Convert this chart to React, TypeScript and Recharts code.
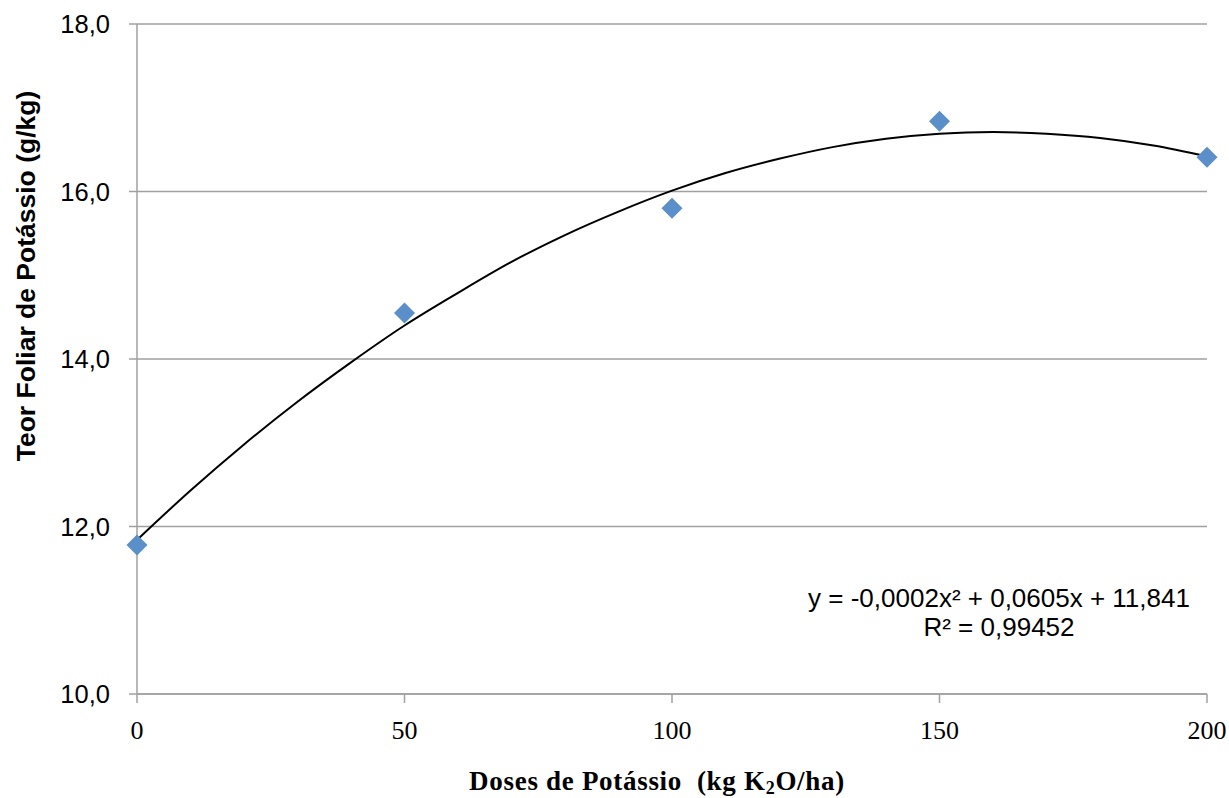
import React from 'react';
import {
  ComposedChart,
  Line,
  Scatter,
  XAxis,
  YAxis,
  CartesianGrid,
} from 'recharts';

// Observed points (dose kg K2O/ha -> leaf K g/kg)
const doses = [0, 50, 100, 150, 200];
const teorFoliar = [11.78, 14.55, 15.8, 16.84, 16.41];

// Trend curve values at every 10 kg/ha
const trendDoses = [0, 10, 20, 30, 40, 50, 60, 70, 80, 90, 100, 110, 120, 130, 140, 150, 160, 170, 180, 190, 200];
const trendValues = [11.84, 12.43, 12.98, 13.49, 13.96, 14.4, 14.79, 15.16, 15.48, 15.76, 16.01, 16.22, 16.39, 16.53, 16.63, 16.69, 16.71, 16.69, 16.64, 16.55, 16.42];

const xTicks = [0, 50, 100, 150, 200];
const yTicks = [10, 12, 14, 16, 18];

const equationText = 'y = -0,0002x² + 0,0605x + 11,841';
const r2Text = 'R² = 0,99452';
const xTitle = 'Doses de Potássio  (kg K';
const xTitleEnd = 'O/ha)';
const yTitle = 'Teor Foliar de Potássio (g/kg)';

const pointData = doses.map((x, i) => ({ x, y: teorFoliar[i] }));
const trendData = trendDoses.map((x, i) => ({ x, y: trendValues[i] }));

const GRID = '#a0a0a0';
const BLUE = '#5B8FC9';

const Diamond = (props: any) => {
  const { cx, cy } = props;
  if (cx == null || cy == null) return null;
  const r = 10.5;
  return (
    <polygon
      points={`${cx},${cy - r} ${cx + r},${cy} ${cx},${cy + r} ${cx - r},${cy}`}
      fill={BLUE}
    />
  );
};

export default function App() {
  return (
    <div
      style={{
        position: 'absolute',
        left: 0,
        top: 0,
        width: 1229,
        height: 798,
        background: '#ffffff',
        overflow: 'hidden',
      }}
    >
      <ComposedChart
        width={1229}
        height={798}
        margin={{ top: 24, right: 22, bottom: 64, left: 0 }}
      >
        <CartesianGrid horizontal={true} vertical={false} stroke={GRID} strokeWidth={1.5} />
        <XAxis
          type="number"
          dataKey="x"
          domain={[0, 200]}
          ticks={xTicks}
          height={40}
          stroke={GRID}
          strokeWidth={1.5}
          tickSize={9}
          tickMargin={18}
          tick={{ fill: '#000', fontFamily: '"Liberation Serif", serif', fontSize: 26 }}
          tickLine={{ stroke: GRID, strokeWidth: 1.5 }}
        />
        <YAxis
          type="number"
          dataKey="y"
          domain={[10, 18]}
          ticks={yTicks}
          width={137}
          stroke={GRID}
          strokeWidth={1.5}
          tickSize={8}
          tickMargin={19}
          tick={{ fill: '#000', fontFamily: '"Liberation Sans", Arial, sans-serif', fontSize: 25.5 }}
          tickLine={{ stroke: GRID, strokeWidth: 1.5 }}
          tickFormatter={(v: number) => v.toFixed(1).replace('.', ',')}
        />
        <Scatter
          data={pointData}
          dataKey="y"
          shape={Diamond}
          isAnimationActive={false}
        />
        <Line
          data={trendData}
          dataKey="y"
          type="monotone"
          stroke="#000"
          strokeWidth={2}
          dot={false}
          activeDot={false}
          isAnimationActive={false}
        />
      </ComposedChart>

      <div
        style={{
          position: 'absolute',
          left: 999,
          top: 584,
          transform: 'translateX(-50%)',
          fontFamily: '"Liberation Sans", Arial, sans-serif',
          fontSize: 26,
          lineHeight: '29px',
          textAlign: 'center',
          whiteSpace: 'nowrap',
          color: '#000',
        }}
      >
        <div>{equationText}</div>
        <div>{r2Text}</div>
      </div>

      <div
        style={{
          position: 'absolute',
          left: 657,
          top: 767,
          transform: 'translateX(-50%)',
          fontFamily: '"Liberation Serif", serif',
          fontWeight: 'bold',
          fontSize: 27,
          letterSpacing: 0.7,
          lineHeight: '28px',
          whiteSpace: 'pre',
          color: '#000',
        }}
      >
        {xTitle}
        <sub style={{ fontSize: 18, verticalAlign: '-4px' }}>2</sub>
        {xTitleEnd}
      </div>

      <div
        style={{
          position: 'absolute',
          left: 26,
          top: 276,
          transform: 'translate(-50%, -50%) rotate(-90deg)',
          fontFamily: '"Liberation Sans", Arial, sans-serif',
          fontWeight: 'bold',
          fontSize: 26.5,
          lineHeight: '30px',
          whiteSpace: 'nowrap',
          color: '#000',
        }}
      >
        {yTitle}
      </div>
    </div>
  );
}
